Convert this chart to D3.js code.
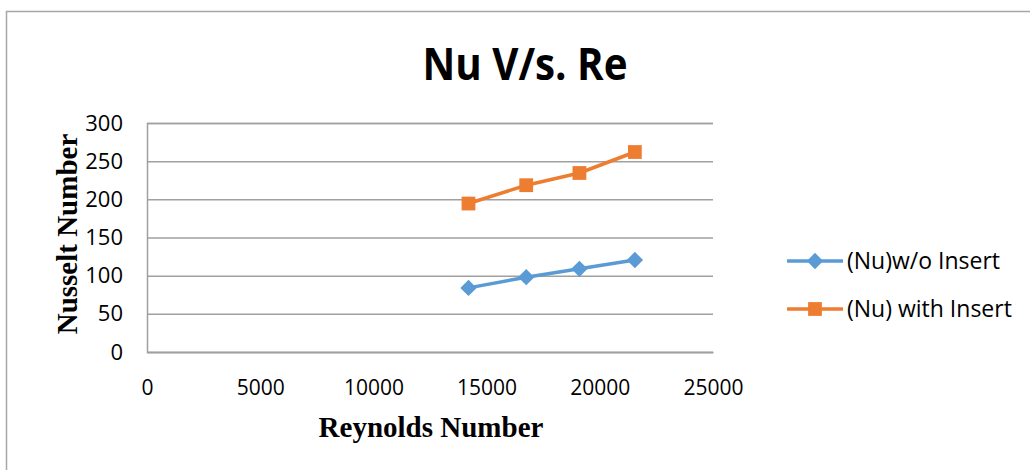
<!DOCTYPE html>
<html><head><meta charset="utf-8">
<script src="https://cdn.jsdelivr.net/npm/d3@7"></script>
<style>body{margin:0;background:#fff}svg{display:block}</style>
</head><body>
<svg id="c" width="1030" height="470"></svg>
<script>
const reynolds = [14200, 16750, 19100, 21550];
const nuWithout = [84, 98, 109, 120.5];
const nuWith = [194.5, 218.5, 234.5, 262];
const seriesNames = ["(Nu)w/o Insert", "(Nu) with Insert"];
const xTicks = [0, 5000, 10000, 15000, 20000, 25000];
const yTicks = [0, 50, 100, 150, 200, 250, 300];
const titleText = "Nu V/s. Re";
const xTitle = "Reynolds Number";
const yTitle = "Nusselt Number";

const svg = d3.select("#c");
const colors = ["#5B9BD5", "#ED7D31"];
const M = {l: 147, r: 713, t: 123, b: 352};
const x = d3.scaleLinear().domain([0, 25000]).range([M.l, M.r]);
const y = d3.scaleLinear().domain([0, 300]).range([M.b, M.t]);

// outer chart border
svg.append("rect").attr("x", 6.5).attr("y", 11.5).attr("width", 1040).attr("height", 480)
  .attr("fill", "none").attr("stroke", "#a6a6a6").attr("stroke-width", 1.5);

svg.append("text").attr("x", 525).attr("y", 80).attr("text-anchor", "middle")
  .attr("font-family", "Open Sans, sans-serif").attr("font-weight", "bold")
  .attr("font-size", 44).attr("textLength", 205).attr("lengthAdjust", "spacingAndGlyphs")
  .attr("fill", "#000").text(titleText);

// gridlines
const yAxis = d3.axisLeft(y).tickValues(yTicks).tickSize(-(M.r - M.l)).tickPadding(24);
const gy = svg.append("g").attr("transform", `translate(${M.l},0)`).call(yAxis);
gy.select(".domain").attr("stroke", "#a0a0a0").attr("stroke-width", 1.5);
gy.selectAll(".tick line").attr("stroke", "#a0a0a0").attr("stroke-width", 1.5);
gy.selectAll(".tick text").attr("font-family", "Open Sans, sans-serif").attr("font-size", 22).attr("fill", "#000");

const xAxis = d3.axisBottom(x).tickValues(xTicks).tickSize(0).tickPadding(28).tickFormat(d3.format("d"));
const gx = svg.append("g").attr("transform", `translate(0,${M.b})`).call(xAxis);
gx.select(".domain").attr("stroke", "#a0a0a0").attr("stroke-width", 1.5);
gx.selectAll(".tick text").attr("font-family", "Open Sans, sans-serif").attr("font-size", 21).attr("fill", "#000");

svg.append("text").attr("x", 431).attr("y", 437).attr("text-anchor", "middle")
  .attr("font-family", "Liberation Serif, serif").attr("font-weight", "bold")
  .attr("font-size", 29).text(xTitle);
svg.append("text").attr("transform", "translate(77,234) rotate(-90)").attr("text-anchor", "middle")
  .attr("font-family", "Liberation Serif, serif").attr("font-weight", "bold")
  .attr("font-size", 29).text(yTitle);

const line = d3.line().x(d => x(d[0])).y(d => y(d[1]));
const data = [reynolds.map((r, i) => [r, nuWithout[i]]), reynolds.map((r, i) => [r, nuWith[i]])];
const diamond = d3.symbol().type(d3.symbolDiamond2).size(170);
const square = d3.symbol().type(d3.symbolSquare).size(190);

data.forEach((s, k) => {
  svg.append("path").datum(s).attr("d", line).attr("fill", "none")
    .attr("stroke", colors[k]).attr("stroke-width", 3.5).attr("stroke-linejoin", "round");
  svg.selectAll(null).data(s).enter().append("path")
    .attr("transform", d => `translate(${x(d[0])},${y(d[1])})`)
    .attr("d", k === 0 ? diamond : square).attr("fill", colors[k]);
});

// legend
const legY = [261, 309];
seriesNames.forEach((n, k) => {
  const g = svg.append("g").attr("transform", `translate(787,${legY[k]})`);
  g.append("line").attr("x1", 0).attr("x2", 56).attr("stroke", colors[k]).attr("stroke-width", 3.5);
  g.append("path").attr("transform", "translate(28,0)").attr("d", k === 0 ? diamond : square).attr("fill", colors[k]);
  g.append("text").attr("x", 60).attr("y", 8).attr("font-family", "Open Sans, sans-serif")
    .attr("font-size", 23).text(n);
});
</script>
</body></html>
